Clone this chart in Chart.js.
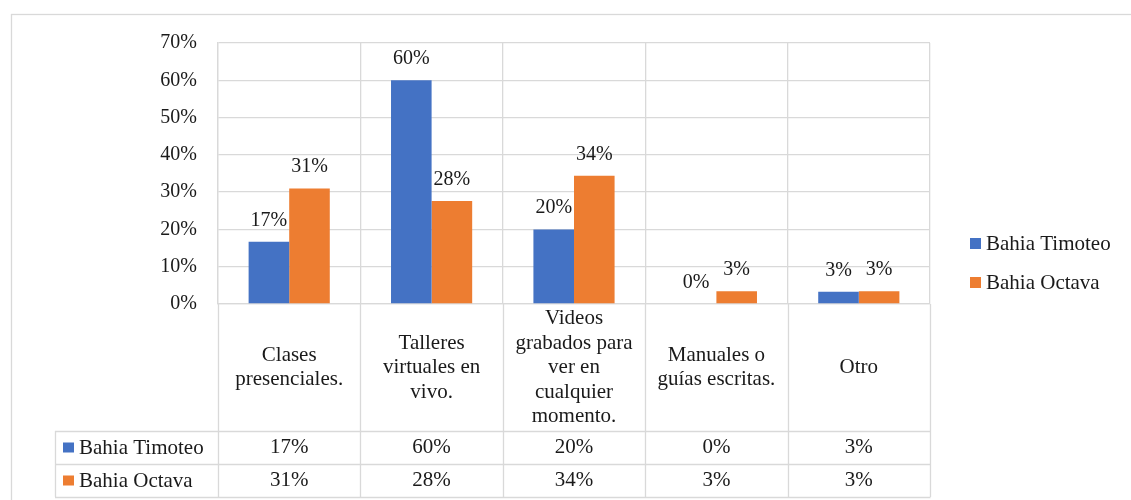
<!DOCTYPE html>
<html>
<head>
<meta charset="utf-8">
<script src="https://cdn.jsdelivr.net/npm/chart.js@4"></script>
<style>
  html, body { margin: 0; padding: 0; background: #fff; }
  canvas { display: block; }
</style>
</head>
<body>
<canvas id="chart" width="1131" height="500"></canvas>
<script>
const categories = [
  ['Clases', 'presenciales.'],
  ['Talleres', 'virtuales en', 'vivo.'],
  ['Videos', 'grabados para', 'ver en', 'cualquier', 'momento.'],
  ['Manuales o', 'guías escritas.'],
  ['Otro']
];
const seriesNames = ['Bahia Timoteo', 'Bahia Octava'];
const timoteo = [0.167, 0.60, 0.20, 0, 0.033];
const octava = [0.310, 0.276, 0.344, 0.034, 0.034];
const seriesColors = ['#4472C4', '#ED7D31'];

const FONT = '"Liberation Serif", serif';
const GRID = '#d9d9d9';
const TEXT = '#1a1a1a';
const pct = v => Math.round(v * 100) + '%';

Chart.defaults.font.family = FONT;

// table geometry under the plot
const HEADER_H = 127;
const ROW_H = 33;
const TABLE_LEFT = 55;

const extras = {
  id: 'extras',
  beforeDraw(chart) {
    const ctx = chart.ctx;
    ctx.save();
    ctx.strokeStyle = GRID;
    ctx.lineWidth = 1.3;
    ctx.strokeRect(11.5, 14.5, 1300, 700);
    ctx.restore();
  },
  afterDatasetsDraw(chart) {
    const ctx = chart.ctx;
    ctx.save();
    ctx.font = '20px ' + FONT;
    ctx.fillStyle = TEXT;
    ctx.textAlign = 'center';
    ctx.textBaseline = 'alphabetic';
    chart.data.datasets.forEach((ds, di) => {
      chart.getDatasetMeta(di).data.forEach((bar, i) => {
        ctx.fillText(pct(ds.data[i]), bar.x, bar.y - 16);
      });
    });
    ctx.restore();
  },
  afterDraw(chart) {
    const ctx = chart.ctx;
    const x = chart.scales.x;
    const area = chart.chartArea;
    const n = categories.length;
    const step = (area.right - area.left) / n;
    const edges = [];
    for (let i = 0; i <= n; i++) edges.push(Math.round(x.getPixelForValue(0) - step / 2 + i * step) + 0.5);
    const top = area.bottom;
    const headBottom = top + HEADER_H;
    const r1 = headBottom + ROW_H;
    const r2 = r1 + ROW_H;

    ctx.save();
    ctx.strokeStyle = GRID;
    ctx.lineWidth = 1.3;
    ctx.beginPath();
    edges.forEach(ex => { ctx.moveTo(ex, top); ctx.lineTo(ex, r2); });
    ctx.moveTo(TABLE_LEFT + 0.5, headBottom); ctx.lineTo(TABLE_LEFT + 0.5, r2);
    [headBottom, r1, r2].forEach(y => {
      ctx.moveTo(TABLE_LEFT, Math.round(y) + 0.5);
      ctx.lineTo(edges[n], Math.round(y) + 0.5);
    });
    ctx.stroke();

    ctx.font = '21px ' + FONT;
    ctx.fillStyle = TEXT;
    ctx.textAlign = 'center';
    ctx.textBaseline = 'middle';
    const lineH = 24.5;
    const headMid = (top + headBottom) / 2;
    categories.forEach((lines, i) => {
      const cx = x.getPixelForValue(i);
      lines.forEach((t, k) => {
        ctx.fillText(t, cx, headMid + (k - (lines.length - 1) / 2) * lineH);
      });
    });

    const rows = [timoteo, octava];
    rows.forEach((vals, r) => {
      const cy = headBottom + ROW_H * r + ROW_H / 2;
      ctx.textAlign = 'center';
      ctx.fillStyle = TEXT;
      vals.forEach((v, i) => ctx.fillText(pct(v), x.getPixelForValue(i), cy));
      ctx.fillStyle = seriesColors[r];
      ctx.fillRect(63, cy - 5, 11, 10);
      ctx.fillStyle = TEXT;
      ctx.textAlign = 'left';
      ctx.fillText(seriesNames[r], 79, cy + 1);
    });

    // legend at the right
    ctx.textAlign = 'left';
    seriesNames.forEach((name, r) => {
      const cy = 243 + r * 39;
      ctx.fillStyle = seriesColors[r];
      ctx.fillRect(970, cy - 5, 11, 11);
      ctx.fillStyle = TEXT;
      ctx.fillText(name, 986, cy + 1);
    });
    ctx.restore();
  }
};

new Chart(document.getElementById('chart'), {
  type: 'bar',
  data: {
    labels: categories,
    datasets: [
      { label: seriesNames[0], data: timoteo, backgroundColor: seriesColors[0] },
      { label: seriesNames[1], data: octava, backgroundColor: seriesColors[1] }
    ]
  },
  options: {
    responsive: false,
    animation: false,
    devicePixelRatio: 1,
    layout: { padding: { left: 0, top: 43, right: 201, bottom: 196 } },
    datasets: {
      bar: { categoryPercentage: 0.57, barPercentage: 1.0, borderWidth: 0 }
    },
    plugins: {
      legend: { display: false },
      tooltip: { enabled: false }
    },
    scales: {
      x: {
        grid: { color: GRID, lineWidth: 1.3, offset: true, drawTicks: false },
        border: { color: GRID, width: 1.3 },
        ticks: { display: false }
      },
      y: {
        min: 0,
        max: 0.7,
        afterFit: s => { s.width = 218; },
        grid: { color: GRID, lineWidth: 1.3, drawTicks: false },
        border: { color: GRID, width: 1.3 },
        ticks: {
          stepSize: 0.1,
          padding: 21,
          color: TEXT,
          font: { family: FONT, size: 20 },
          callback: v => Math.round(v * 100) + '%'
        }
      }
    }
  },
  plugins: [extras]
});
</script>
</body>
</html>
